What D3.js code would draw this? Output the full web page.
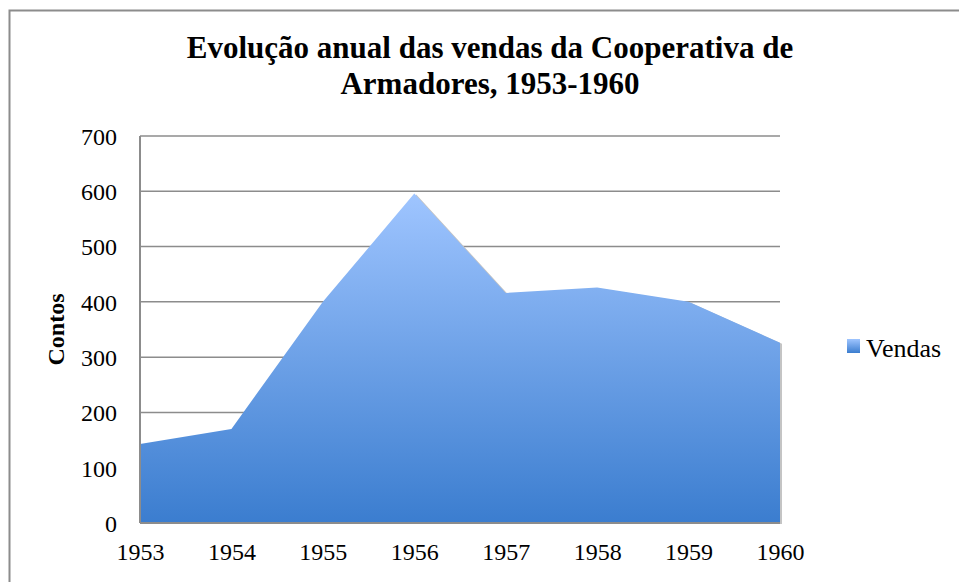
<!DOCTYPE html>
<html>
<head>
<meta charset="utf-8">
<script src="https://cdn.jsdelivr.net/npm/d3@7"></script>
<style>
  body { margin: 0; background: #fff; }
</style>
</head>
<body>
<div id="chart"></div>
<script>
const years = [1953, 1954, 1955, 1956, 1957, 1958, 1959, 1960]
const vendas = [143, 170, 400, 596, 416, 426, 400, 326]
const yTicks = [0, 100, 200, 300, 400, 500, 600, 700]
const titleLines = ["Evolução anual das vendas da Cooperativa de", "Armadores, 1953-1960"]
const seriesName = "Vendas"
const yLabel = "Contos"

const FONT = "Liberation Serif"
const W = 959, H = 582
const MARGIN = { TOP: 136, LEFT: 140, RIGHT: 179, BOTTOM: 59 }
const width = W - MARGIN.LEFT - MARGIN.RIGHT
const height = H - MARGIN.TOP - MARGIN.BOTTOM

const svg = d3.select("#chart").append("svg")
  .attr("width", W).attr("height", H)
  .attr("font-family", FONT)

// chart frame
svg.append("rect")
  .attr("x", 9.5).attr("y", 10.5)
  .attr("width", W + 20).attr("height", H + 20)
  .attr("fill", "none").attr("stroke", "#8c8c8c").attr("stroke-width", 2)

const defs = svg.append("defs")
const grad = defs.append("linearGradient")
  .attr("id", "areaGrad").attr("x1", 0).attr("y1", 0).attr("x2", 0).attr("y2", 1)
grad.append("stop").attr("offset", "0%").attr("stop-color", "#9fc5ff")
grad.append("stop").attr("offset", "100%").attr("stop-color", "#3b7dcf")
const lgrad = defs.append("linearGradient")
  .attr("id", "legGrad").attr("x1", 0).attr("y1", 0).attr("x2", 0).attr("y2", 1)
lgrad.append("stop").attr("offset", "0%").attr("stop-color", "#9fc5ff")
lgrad.append("stop").attr("offset", "100%").attr("stop-color", "#3b7dcf")

const g = svg.append("g").attr("transform", `translate(${MARGIN.LEFT},${MARGIN.TOP})`)

const x = d3.scalePoint().domain(years).range([0, width])
const y = d3.scaleLinear().domain([0, 700]).range([height, 0])

// gridlines
g.append("g")
  .selectAll("line").data(yTicks.filter(d => d > 0)).join("line")
  .attr("x1", 0).attr("x2", width)
  .attr("y1", d => y(d)).attr("y2", d => y(d))
  .attr("stroke", "#8c8c8c").attr("stroke-width", 1.5)

const data = years.map((yr, i) => ({ yr, v: vendas[i] }))
const area = d3.area()
  .x(d => x(d.yr)).y0(height).y1(d => y(d.v))

// soft shadow on right edge
g.append("path").datum(data)
  .attr("d", area).attr("fill", "#c4c4c4")
  .attr("transform", "translate(2,1)")
g.append("path").datum(data)
  .attr("d", area).attr("fill", "url(#areaGrad)")

// axes lines
g.append("line").attr("x1", 0).attr("x2", 0).attr("y1", 0).attr("y2", height)
  .attr("stroke", "#8c8c8c").attr("stroke-width", 2)
g.append("line").attr("x1", 0).attr("x2", width).attr("y1", height).attr("y2", height)
  .attr("stroke", "#8c8c8c").attr("stroke-width", 2)

const yAxis = g.append("g")
  .call(d3.axisLeft(y).tickValues(yTicks).tickSize(0).tickPadding(23))
yAxis.attr("font-family", FONT)
yAxis.select(".domain").remove()
yAxis.selectAll("text").attr("font-size", 24).attr("fill", "#000").attr("dy", "0.35em")

const xAxis = g.append("g").attr("transform", `translate(0,${height})`)
  .call(d3.axisBottom(x).tickSize(0).tickPadding(20).tickFormat(d3.format("d")))
xAxis.attr("font-family", FONT)
xAxis.select(".domain").remove()
xAxis.selectAll("text").attr("font-size", 24).attr("fill", "#000")

// title
svg.append("g").selectAll("text").data(titleLines).join("text")
  .attr("x", 490).attr("y", (d, i) => 58 + i * 36)
  .attr("text-anchor", "middle")
  .attr("font-size", 31).attr("font-weight", "bold")
  .text(d => d)

// y label
svg.append("text")
  .attr("transform", `translate(64,${MARGIN.TOP + height / 2}) rotate(-90)`)
  .attr("text-anchor", "middle")
  .attr("font-size", 24).attr("font-weight", "bold")
  .text(yLabel)

// legend
svg.append("rect").attr("x", 847).attr("y", 339).attr("width", 13).attr("height", 14)
  .attr("fill", "url(#legGrad)")
svg.append("text").attr("x", 866).attr("y", 357)
  .attr("font-size", 26).text(seriesName)
</script>
</body>
</html>
